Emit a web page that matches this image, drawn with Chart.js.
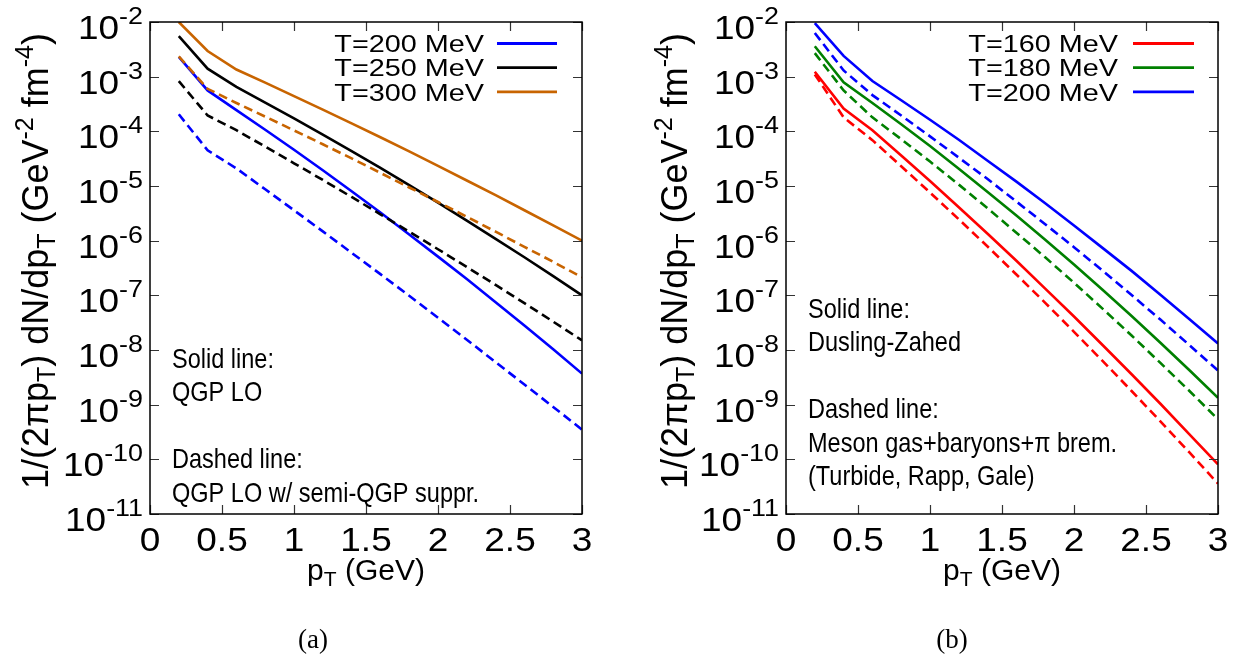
<!DOCTYPE html>
<html><head><meta charset="utf-8">
<script src="https://cdn.jsdelivr.net/npm/chart.js@4/dist/chart.umd.min.js"></script>
<style>
html,body{margin:0;padding:0;background:#fff;width:1238px;height:655px;overflow:hidden;}
canvas{position:absolute;top:0;}
#cA{left:0;} #cB{left:619px;}
</style></head><body>
<canvas id="cA" width="619" height="655"></canvas>
<canvas id="cB" width="619" height="655"></canvas>
<script>
// ---------- data ----------
const pT = [0.2,0.4,0.6,0.8,1.0,1.2,1.4,1.6,1.8,2.0,2.2,2.4,2.6,2.8,3.0];
const xTickValues = [0,0.5,1,1.5,2,2.5,3];
const xTickLabels = ['0','0.5','1','1.5','2','2.5','3'];
const yTickValues = [1e-2,1e-3,1e-4,1e-5,1e-6,1e-7,1e-8,1e-9,1e-10,1e-11];
const yTickExponents = ['-2','-3','-4','-5','-6','-7','-8','-9','-10','-11'];

// panel (a): QGP LO (solid) and QGP LO w/ semi-QGP suppression (dashed)
const qgpLO_T200 = [2.3e-3,5.6e-4,2.45e-4,1.07e-4,4.6e-5,1.94e-5,8.0e-6,3.27e-6,1.3e-6,5.1e-7,1.99e-7,7.5e-8,2.8e-8,1.03e-8,3.7e-9];
const qgpLO_T250 = [5.5e-3,1.4e-3,6.5e-4,3.36e-4,1.72e-4,8.7e-5,4.35e-5,2.14e-5,1.04e-5,4.95e-6,2.33e-6,1.08e-6,4.97e-7,2.24e-7,1.0e-7];
const qgpLO_T300 = [1.0e-2,2.95e-3,1.35e-3,7.8e-4,4.4e-4,2.5e-4,1.4e-4,7.8e-5,4.3e-5,2.33e-5,1.26e-5,6.8e-6,3.6e-6,1.9e-6,1.0e-6];
const semi_T200 = [2.05e-4,4.5e-5,2.1e-5,8.7e-6,3.6e-6,1.48e-6,6.0e-7,2.44e-7,9.8e-8,3.9e-8,1.54e-8,6.0e-9,2.34e-9,9.1e-10,3.5e-10];
const semi_T250 = [8.3e-4,1.95e-4,1.05e-4,5.25e-5,2.6e-5,1.29e-5,6.3e-6,3.04e-6,1.46e-6,6.97e-7,3.3e-7,1.55e-7,7.2e-8,3.3e-8,1.5e-8];
const semi_T300 = [2.35e-3,6.0e-4,3.3e-4,1.86e-4,1.04e-4,5.8e-5,3.2e-5,1.74e-5,9.4e-6,5.1e-6,2.74e-6,1.46e-6,7.7e-7,4.1e-7,2.13e-7];

// panel (b): Dusling-Zahed (solid) and hadron gas (dashed)
const dz_T160 = [1.23e-3,2.6e-4,1.05e-4,3.6e-5,1.23e-5,4.1e-6,1.34e-6,4.3e-7,1.33e-7,4.1e-8,1.22e-8,3.6e-9,1.04e-9,2.9e-10,8.1e-11];
const dz_T180 = [3.6e-3,7.9e-4,3.3e-4,1.35e-4,5.4e-5,2.07e-5,7.8e-6,2.9e-6,1.04e-6,3.65e-7,1.25e-7,4.2e-8,1.36e-8,4.3e-9,1.34e-9];
const dz_T200 = [9.5e-3,2.4e-3,8.3e-4,3.7e-4,1.63e-4,7.0e-5,2.9e-5,1.2e-5,4.85e-6,1.9e-6,7.3e-7,2.8e-7,1.03e-7,3.7e-8,1.32e-8];
const hg_T160 = [1.1e-3,1.8e-4,6.9e-5,2.3e-5,7.6e-6,2.46e-6,7.8e-7,2.4e-7,7.3e-8,2.15e-8,6.25e-9,1.78e-9,4.95e-10,1.35e-10,3.6e-11];
const hg_T180 = [2.7e-3,5.6e-4,1.8e-4,7.2e-5,2.8e-5,1.06e-5,3.9e-6,1.4e-6,4.95e-7,1.7e-7,5.65e-8,1.84e-8,5.8e-9,1.8e-9,5.4e-10];
const hg_T200 = [6.3e-3,1.3e-3,4.6e-4,1.95e-4,8.1e-5,3.3e-5,1.34e-5,5.2e-6,2.0e-6,7.6e-7,2.8e-7,1.01e-7,3.6e-8,1.24e-8,4.2e-9];

const legendA = ['T=200 MeV','T=250 MeV','T=300 MeV'];
const legendB = ['T=160 MeV','T=180 MeV','T=200 MeV'];
const notesA = ['Solid line:','QGP LO','','Dashed line:','QGP LO w/ semi-QGP suppr.'];
const notesB = ['Solid line:','Dusling-Zahed','','Dashed line:','Meson gas+baryons+\u03c0 brem.','(Turbide, Rapp, Gale)'];

// ---------- style ----------
const BLUE='#0000ff', BLACK='#000000', ORANGE='#c86400', RED='#ff0000', GREEN='#008000';
const FAM = '"Liberation Sans", Arial, sans-serif';
const SERIF = '"Liberation Serif", "DejaVu Serif", serif';
const SX = 1.12;

function ds(arr, color, dashed){
  return {data: pT.map((x,i)=>({x:x,y:arr[i]})), borderColor: color, backgroundColor: color,
    borderWidth: 2.6, borderDash: dashed?[9,5]:[], pointRadius:0, tension:0, fill:false};
}

function drawRich(ctx, parts, x, y, align, sx){
  ctx.save();
  let w=0;
  for(const p of parts){ ctx.font = p.s+'px '+(p.f||FAM); p.w = ctx.measureText(p.t).width; w+=p.w; }
  const start = align==='right' ? x-w*sx : align==='center' ? x-w*sx/2 : x;
  ctx.translate(start,y); ctx.scale(sx,1);
  ctx.textAlign='left'; ctx.textBaseline='alphabetic'; ctx.fillStyle='#000';
  let cx=0;
  for(const p of parts){ ctx.font = p.s+'px '+(p.f||FAM); ctx.fillText(p.t,cx,p.dy||0); cx+=p.w; }
  ctx.restore();
}

function makePlugin(cfg){
  return {
    id:'decor',
    afterDraw(chart){
      const ctx=chart.ctx, a=chart.chartArea, xs=chart.scales.x, ys=chart.scales.y;
      ctx.save();
      ctx.strokeStyle='#333'; ctx.lineWidth=1.2;
      ctx.beginPath();
      xTickValues.forEach(v=>{ const px=Math.round(xs.getPixelForValue(v))+0.5;
        ctx.moveTo(px,a.bottom); ctx.lineTo(px,a.bottom-9);
        ctx.moveTo(px,a.top); ctx.lineTo(px,a.top+9); });
      yTickValues.forEach(v=>{ const py=Math.round(ys.getPixelForValue(v))+0.5;
        ctx.moveTo(a.left,py); ctx.lineTo(a.left+9,py);
        ctx.moveTo(a.right,py); ctx.lineTo(a.right-9,py); });
      ctx.stroke();
      ctx.strokeStyle='#000'; ctx.lineWidth=1.5;
      ctx.strokeRect(a.left,a.top,a.right-a.left,a.bottom-a.top);
      ctx.restore();
      // x tick labels
      xTickValues.forEach((v,i)=>{
        drawRich(ctx,[{t:xTickLabels[i],s:33}], xs.getPixelForValue(v), a.bottom+37,'center',SX);
      });
      // y tick labels
      yTickValues.forEach((v,i)=>{
        const py=ys.getPixelForValue(v);
        drawRich(ctx,[{t:'10',s:33},{t:yTickExponents[i],s:24,dy:-15}], a.left-7, py+17,'right',SX);
      });
      // x title
      drawRich(ctx,[{t:'p',s:30},{t:'T',s:21,dy:6},{t:' (GeV)',s:30}], (a.left+a.right)/2, 580,'center',1.0);
      // y title (rotated)
      ctx.save();
      ctx.translate(cfg.yTitleX,(a.top+a.bottom)/2-7);
      ctx.rotate(-Math.PI/2);
      const parts=[{t:'1/(2\u03c0p',s:36},{t:'T',s:25,dy:7},{t:') dN/dp',s:36},{t:'T',s:25,dy:7},
        {t:' (GeV',s:36},{t:'-2',s:25,dy:-15},{t:' fm',s:36},{t:'-4',s:25,dy:-15},{t:')',s:36}];
      drawRich(ctx,parts,0,0,'center',1.0);
      ctx.restore();
      // legend
      cfg.legend.forEach((lab,i)=>{
        const yc=cfg.legendY[i];
        drawRich(ctx,[{t:lab,s:24}], cfg.legendTextRight, yc+8.7,'right',1.2);
        ctx.save(); ctx.strokeStyle=cfg.legendColors[i]; ctx.lineWidth=2.8;
        ctx.beginPath(); ctx.moveTo(cfg.legendLine[0],yc); ctx.lineTo(cfg.legendLine[1],yc); ctx.stroke(); ctx.restore();
      });
      // notes
      cfg.notes.forEach((t,i)=>{ if(t) drawRich(ctx,[{t:t,s:28}], cfg.notesX, cfg.notesY0+i*33.4,'left',0.84); });
      // panel label
      drawRich(ctx,[{t:cfg.panel,s:27,f:SERIF}], cfg.panelX, 648,'center',1.0);
    }
  };
}

function makeChart(id, datasets, pad, cfg){
  return new Chart(document.getElementById(id),{
    type:'line',
    data:{datasets:datasets},
    options:{
      responsive:false, animation:false, devicePixelRatio:1,
      layout:{padding:pad},
      plugins:{legend:{display:false},tooltip:{enabled:false}},
      scales:{
        x:{type:'linear',min:0,max:3,display:false},
        y:{type:'logarithmic',min:1e-11,max:1e-2,display:false}
      }
    },
    plugins:[makePlugin(cfg)]
  });
}

makeChart('cA',[
  ds(semi_T200,BLUE,true), ds(semi_T250,BLACK,true), ds(semi_T300,ORANGE,true),
  ds(qgpLO_T200,BLUE,false), ds(qgpLO_T250,BLACK,false), ds(qgpLO_T300,ORANGE,false)
],{left:150,right:37,top:22,bottom:141},{
  yTitleX:48, legend:legendA, legendColors:[BLUE,BLACK,ORANGE], legendY:[43.5,67.7,91.8],
  legendTextRight:484, legendLine:[497,557], notes:notesA, notesX:172, notesY0:368, panel:'(a)', panelX:313
});
makeChart('cB',[
  ds(hg_T160,RED,true), ds(hg_T180,GREEN,true), ds(hg_T200,BLUE,true),
  ds(dz_T160,RED,false), ds(dz_T180,GREEN,false), ds(dz_T200,BLUE,false)
],{left:167,right:20,top:22,bottom:141},{
  yTitleX:68, legend:legendB, legendColors:[RED,GREEN,BLUE], legendY:[43.5,67.7,91.8],
  legendTextRight:499, legendLine:[514,575], notes:notesB, notesX:189, notesY0:318, panel:'(b)', panelX:333
});
</script>
</body></html>
